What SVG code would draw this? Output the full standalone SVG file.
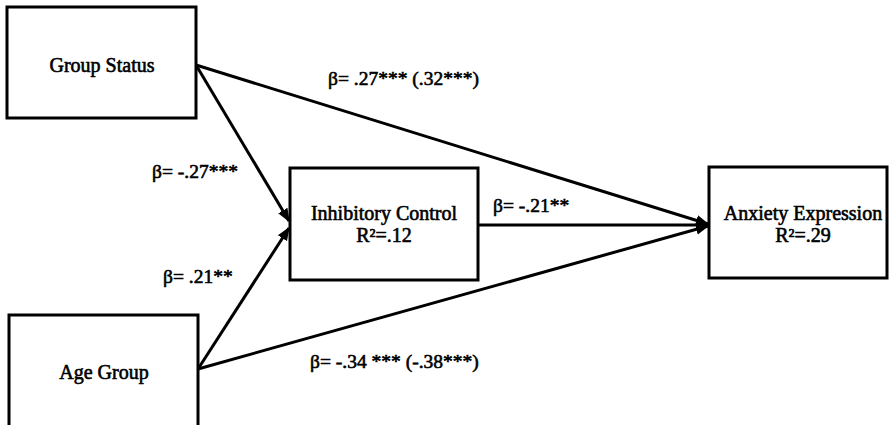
<svg xmlns="http://www.w3.org/2000/svg" width="890" height="425" viewBox="0 0 890 425">
<style>
.box{fill:#fff;stroke:#000;stroke-width:3}
.lbl{font-family:"Liberation Serif","Times New Roman",serif;font-size:20px;fill:#000;stroke:#000;stroke-width:0.6;text-anchor:middle}
.beta{font-family:"Liberation Serif","Times New Roman",serif;font-size:19.5px;fill:#000;stroke:#000;stroke-width:0.6}
.edge{stroke:#000;stroke-width:3;fill:none;marker-end:url(#ah)}
</style>
<defs>
<marker id="ah" viewBox="0 0 10 10" refX="9" refY="5" markerWidth="4.5" markerHeight="4.5" orient="auto" markerUnits="strokeWidth">
<path d="M0,1 L10,5 L0,9 z" fill="#000"/>
</marker>
</defs>
<g id="connectors">
<line class="edge" x1="196" y1="65" x2="708" y2="224"/>
<line class="edge" x1="196" y1="65" x2="289" y2="221"/>
<line class="edge" x1="198" y1="369" x2="289" y2="228"/>
<line class="edge" x1="198" y1="369" x2="708" y2="226"/>
<line class="edge" x1="478" y1="225" x2="708" y2="225"/>
</g>
<g id="group-status">
<rect class="box" x="7" y="7" width="189" height="111"/>
<text class="lbl" x="102" y="72">Group Status</text>
</g>
<g id="age-group">
<rect class="box" x="9" y="315" width="189" height="115"/>
<text class="lbl" x="104" y="379">Age Group</text>
</g>
<g id="inhibitory-control">
<rect class="box" x="290" y="168" width="188" height="112"/>
<text class="lbl" x="384" y="220">Inhibitory Control</text>
<text class="lbl" x="384" y="242">R²=.12</text>
</g>
<g id="anxiety-expression">
<rect class="box" x="709" y="167" width="178" height="111"/>
<text class="lbl" x="803" y="220">Anxiety Expression</text>
<text class="lbl" x="803" y="242">R²=.29</text>
</g>
<g id="labels">
<text class="beta" x="328" y="85">β= .27*** (.32***)</text>
<text class="beta" x="152" y="178">β= -.27***</text>
<text class="beta" x="163" y="283">β= .21**</text>
<text class="beta" x="493" y="212">β= -.21**</text>
<text class="beta" x="310" y="368">β= -.34 *** (-.38***)</text>
</g>
</svg>
